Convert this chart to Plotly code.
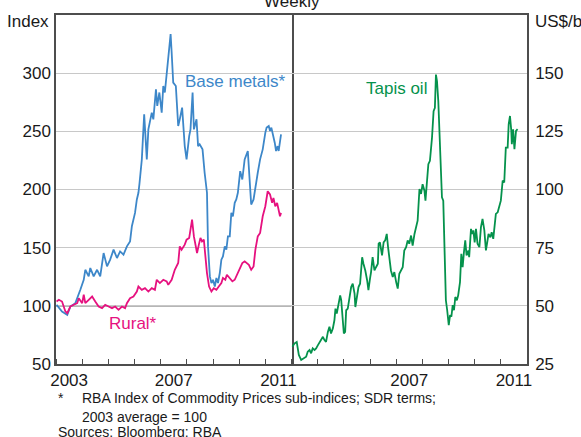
import plotly.graph_objects as go

# Weekly series (decimal years)
metals_t = [2003.02, 2003.23, 2003.43, 2003.55, 2003.74, 2003.87, 2003.93, 2004.06, 2004.12, 2004.25,
            2004.31, 2004.44, 2004.57, 2004.69, 2004.82, 2004.95, 2005.07, 2005.20, 2005.33, 2005.45,
            2005.58, 2005.71, 2005.83, 2005.90, 2006.02, 2006.09, 2006.15, 2006.19, 2006.28, 2006.37,
            2006.47, 2006.53, 2006.59, 2006.66, 2006.72, 2006.82, 2006.87, 2006.95, 2007.04, 2007.10,
            2007.16, 2007.23, 2007.29, 2007.38, 2007.42, 2007.48, 2007.58, 2007.67, 2007.73, 2007.82,
            2007.92, 2007.99, 2008.09, 2008.14, 2008.22, 2008.27, 2008.37, 2008.43, 2008.49, 2008.60,
            2008.68, 2008.77, 2008.81, 2008.88, 2008.94, 2009.00, 2009.07, 2009.13, 2009.19, 2009.26,
            2009.32, 2009.38, 2009.45, 2009.51, 2009.57, 2009.64, 2009.70, 2009.76, 2009.83, 2009.89,
            2009.95, 2010.04, 2010.12, 2010.21, 2010.33, 2010.40, 2010.46, 2010.55, 2010.62, 2010.71,
            2010.80, 2010.90, 2011.00, 2011.05, 2011.13, 2011.18, 2011.23, 2011.31, 2011.36, 2011.41,
            2011.47, 2011.51, 2011.56, 2011.60]
metals = [100.9, 95.1, 92.2, 99.4, 102.3, 109.5, 113.8, 122.4, 131.0, 125.3,
          132.5, 125.3, 131.0, 125.3, 145.4, 133.9, 139.7, 148.3, 141.1, 146.8,
          144.0, 151.1, 155.4, 168.4, 179.9, 191.4, 197.2, 205.0, 225.9, 264.7,
          225.9, 251.7, 257.5, 266.1, 260.3, 286.2, 271.8, 283.4, 266.1, 289.0,
          283.4, 300.6, 317.8, 333.6, 317.8, 291.9, 289.0, 254.6, 260.3, 270.4,
          237.3, 225.9, 245.9, 251.7, 283.4, 251.7, 260.3, 237.3, 238.8, 234.5,
          214.4, 197.2, 151.1, 125.3, 119.6, 122.4, 116.6, 123.9, 119.6, 128.2,
          139.7, 142.5, 151.1, 148.3, 159.7, 159.7, 179.9, 177.0, 188.5, 191.4,
          197.2, 215.8, 208.6, 225.9, 233.1, 211.5, 187.1, 191.4, 202.8, 214.4,
          225.9, 234.5, 248.9, 253.2, 254.6, 250.3, 253.2, 245.9, 240.2, 233.1,
          237.3, 233.1, 243.1, 247.4]

rural_t = [2003.02, 2003.11, 2003.23, 2003.36, 2003.43, 2003.55, 2003.68, 2003.81, 2003.87, 2004.00,
           2004.06, 2004.12, 2004.25, 2004.38, 2004.50, 2004.63, 2004.76, 2004.88, 2005.01, 2005.14,
           2005.26, 2005.39, 2005.52, 2005.64, 2005.71, 2005.83, 2005.96, 2006.09, 2006.15, 2006.28,
           2006.40, 2006.53, 2006.66, 2006.78, 2006.85, 2006.97, 2007.10, 2007.23, 2007.29, 2007.42,
           2007.54, 2007.67, 2007.73, 2007.80, 2007.92, 2007.99, 2008.09, 2008.14, 2008.20, 2008.27,
           2008.33, 2008.39, 2008.46, 2008.52, 2008.58, 2008.65, 2008.71, 2008.77, 2008.85, 2008.94,
           2009.03, 2009.13, 2009.22, 2009.32, 2009.38, 2009.47, 2009.53, 2009.64, 2009.74, 2009.83,
           2009.95, 2010.02, 2010.12, 2010.21, 2010.27, 2010.37, 2010.46, 2010.55, 2010.62, 2010.71,
           2010.80, 2010.90, 2011.00, 2011.09, 2011.18, 2011.26, 2011.31, 2011.38, 2011.45, 2011.51,
           2011.56, 2011.60]
rural = [103.7, 105.2, 103.7, 95.1, 93.7, 99.4, 100.9, 102.3, 106.6, 102.3,
         109.5, 102.3, 105.2, 108.0, 103.7, 99.4, 98.0, 100.9, 99.4, 98.0,
         99.4, 96.6, 99.4, 98.0, 102.3, 106.6, 108.0, 112.3, 116.6, 113.8,
         115.2, 112.3, 115.2, 113.8, 122.4, 119.6, 122.4, 121.0, 118.1, 122.4,
         131.0, 136.8, 151.1, 148.3, 152.6, 156.9, 158.4, 165.5, 174.1, 159.7,
         151.1, 145.4, 152.6, 158.4, 155.4, 156.9, 142.5, 128.2, 116.6, 112.3,
         115.2, 113.8, 116.6, 119.6, 123.9, 122.4, 126.7, 123.9, 121.0, 122.4,
         128.2, 132.5, 136.8, 138.2, 136.8, 135.3, 131.0, 133.9, 148.3, 159.7,
         162.6, 177.0, 185.6, 198.5, 195.7, 188.5, 192.8, 185.6, 188.5, 181.3,
         177.0, 179.9]

tapis_t = [2003.03, 2003.12, 2003.20, 2003.28, 2003.37, 2003.46, 2003.56, 2003.62, 2003.69, 2003.75,
           2003.81, 2003.88, 2003.94, 2004.01, 2004.09, 2004.20, 2004.26, 2004.32, 2004.39, 2004.45,
           2004.51, 2004.58, 2004.64, 2004.68, 2004.73, 2004.81, 2004.86, 2004.90, 2004.96, 2005.00,
           2005.05, 2005.09, 2005.15, 2005.21, 2005.28, 2005.34, 2005.41, 2005.44, 2005.49, 2005.56,
           2005.62, 2005.66, 2005.70, 2005.75, 2005.82, 2005.89, 2005.94, 2006.00, 2006.04, 2006.10,
           2006.17, 2006.23, 2006.30, 2006.33, 2006.38, 2006.46, 2006.52, 2006.58, 2006.64, 2006.69,
           2006.74, 2006.80, 2006.87, 2006.93, 2007.00, 2007.06, 2007.12, 2007.19, 2007.25, 2007.31,
           2007.38, 2007.44, 2007.50, 2007.57, 2007.63, 2007.70, 2007.76, 2007.82, 2007.89, 2007.95,
           2008.01, 2008.08, 2008.12, 2008.17, 2008.23, 2008.29, 2008.37, 2008.43, 2008.48, 2008.52,
           2008.56, 2008.61, 2008.67, 2008.71, 2008.75, 2008.80, 2008.85, 2008.90, 2008.95, 2009.01,
           2009.06, 2009.11, 2009.16, 2009.21, 2009.26, 2009.32, 2009.37, 2009.44, 2009.49, 2009.54,
           2009.59, 2009.64, 2009.69, 2009.76, 2009.79, 2009.86, 2009.90, 2009.95, 2010.00, 2010.05,
           2010.11, 2010.18, 2010.24, 2010.30, 2010.37, 2010.43, 2010.48, 2010.53, 2010.60, 2010.65,
           2010.71, 2010.75, 2010.81, 2010.88, 2010.94, 2011.00, 2011.07, 2011.13, 2011.19, 2011.26,
           2011.30, 2011.35, 2011.40, 2011.42, 2011.47, 2011.52, 2011.58, 2011.64]
tapis = [32.4, 33.9, 34.5, 28.9, 26.7, 27.4, 28.1, 30.3, 31.0, 29.6,
         31.7, 31.0, 31.7, 33.1, 34.5, 36.7, 35.3, 34.5, 38.8, 41.0,
         38.1, 40.3, 43.8, 48.8, 46.7, 51.0, 54.5, 52.4, 44.6, 38.1,
         38.8, 48.1, 48.8, 52.4, 58.1, 59.5, 55.3, 49.5, 53.8, 58.1,
         59.5, 64.5, 70.9, 68.1, 65.2, 61.0, 56.7, 61.7, 64.5, 70.9,
         65.2, 66.6, 68.1, 76.7, 77.3, 71.7, 77.3, 78.1, 80.9, 75.2,
         70.9, 65.2, 62.4, 64.5, 60.2, 57.4, 63.8, 65.2, 66.6, 73.8,
         75.2, 78.1, 76.7, 80.2, 75.9, 80.9, 84.5, 86.6, 100.2, 98.1,
         102.3, 99.5, 95.2, 100.9, 110.9, 112.3, 122.3, 133.7, 135.1, 149.4,
         146.6, 138.0, 120.9, 113.7, 96.6, 95.2, 70.9, 52.4, 48.1, 41.7,
         46.0, 45.3, 50.3, 48.1, 53.8, 52.4, 54.5, 60.2, 72.4, 66.6,
         73.1, 78.1, 71.7, 73.8, 70.9, 83.1, 80.9, 82.4, 77.3, 83.1,
         76.7, 75.2, 83.8, 87.4, 82.4, 73.8, 77.3, 80.9, 79.5, 81.6,
         78.8, 83.1, 89.5, 90.2, 92.3, 95.2, 103.8, 103.0, 118.0, 118.0,
         128.0, 131.6, 125.2, 119.5, 125.9, 117.3, 125.2, 125.9]

year_ticks = list(range(2003, 2013))
left_years = ["2003", "2007", "2011"]
right_years = ["2007", "2011"]
left_yticks = [50, 100, 150, 200, 250, 300]
right_yticks = [25, 50, 75, 100, 125, 150]
base_level = 100

BLUE = "#3d87c9"
PINK = "#e6117f"
GREEN = "#05924c"
FRAME = "#4d4d4d"
GRID = "#c8c8c8"
TXT = "#1a1a1a"
FONT = "Liberation Sans, Arial, sans-serif"

fig = go.Figure()
fig.add_trace(go.Scatter(x=metals_t, y=metals, mode="lines", line=dict(color=BLUE, width=1.8),
                         xaxis="x", yaxis="y"))
fig.add_trace(go.Scatter(x=rural_t, y=rural, mode="lines", line=dict(color=PINK, width=1.8),
                         xaxis="x", yaxis="y"))
fig.add_trace(go.Scatter(x=tapis_t, y=tapis, mode="lines", line=dict(color=GREEN, width=1.8),
                         xaxis="x2", yaxis="y2"))

xcommon = dict(range=[2003, 2012], showgrid=False, zeroline=False, showline=True, mirror=True,
               linecolor=FRAME, linewidth=1.5, ticks="", tickfont=dict(size=17, color=TXT),
               minor=dict(tickmode="array", tickvals=year_ticks, ticks="inside", ticklen=5,
                          tickcolor=FRAME, tickwidth=1))
ycommon = dict(showgrid=True, gridcolor=GRID, gridwidth=1, zeroline=False, showline=True,
               linecolor=FRAME, linewidth=1.5, ticks="", tickfont=dict(size=17, color=TXT))

fig.update_layout(
    width=581, height=437,
    margin=dict(l=56, r=54, t=15, b=73),
    paper_bgcolor="white", plot_bgcolor="white",
    showlegend=False,
    font=dict(family=FONT, color=TXT),
    xaxis=dict(domain=[0, 0.5], anchor="y", tickmode="array",
               tickvals=[int(s) + 0.5 for s in left_years], ticktext=left_years, **xcommon),
    xaxis2=dict(domain=[0.5, 1], anchor="y2", tickmode="array",
                tickvals=[int(s) + 0.5 for s in right_years], ticktext=right_years, **xcommon),
    yaxis=dict(anchor="x", range=[50, 350], tickmode="array", tickvals=left_yticks,
               mirror=True, ticklabelstandoff=0, **ycommon),
    yaxis2=dict(anchor="x2", side="right", range=[25, 175], tickmode="array",
                tickvals=right_yticks, mirror=False, ticklabelstandoff=3, **ycommon),
)

fig.add_shape(type="line", xref="x domain", x0=0, x1=1, yref="y", y0=base_level, y1=base_level,
              line=dict(color="#222222", width=1), layer="below")

ann = [
    dict(text="Weekly", x=0.5, y=1.04, xref="paper", yref="paper", xanchor="center",
         yanchor="middle", font=dict(size=17)),
    dict(text="Index", x=-0.011, y=0.981, xref="paper", yref="paper", xanchor="right",
         yanchor="middle", font=dict(size=17)),
    dict(text="US$/b", x=1.013, y=0.981, xref="paper", yref="paper", xanchor="left",
         yanchor="middle", font=dict(size=17)),
    dict(text="Base metals*", x=2009.86, y=293, xref="x", yref="y", xanchor="center",
         yanchor="middle", font=dict(size=17, color=BLUE)),
    dict(text="Rural*", x=2005.96, y=84.5, xref="x", yref="y", xanchor="center",
         yanchor="middle", font=dict(size=17, color=PINK)),
    dict(text="Tapis oil", x=2007.03, y=143.6, xref="x2", yref="y2", xanchor="center",
         yanchor="middle", font=dict(size=17, color=GREEN)),
    dict(text="*", x=0.0, y=-0.097, xref="paper", yref="paper", xanchor="left",
         yanchor="middle", font=dict(size=14)),
    dict(text="RBA Index of Commodity Prices sub-indices; SDR terms;", x=0.05, y=-0.097,
         xref="paper", yref="paper", xanchor="left", yanchor="middle", font=dict(size=14)),
    dict(text="2003 average = 100", x=0.05, y=-0.151, xref="paper", yref="paper",
         xanchor="left", yanchor="middle", font=dict(size=14)),
    dict(text="Sources: Bloomberg; RBA", x=0.0, y=-0.195, xref="paper", yref="paper",
         xanchor="left", yanchor="middle", font=dict(size=14)),
]
for a in ann:
    a["showarrow"] = False
    fig.add_annotation(**a)

# page body has a default 8px margin; drop it so the figure sits at the window corner
fig.write_html("out.html", config={"displayModeBar": False},
               post_script="document.body.style.margin='0';")
